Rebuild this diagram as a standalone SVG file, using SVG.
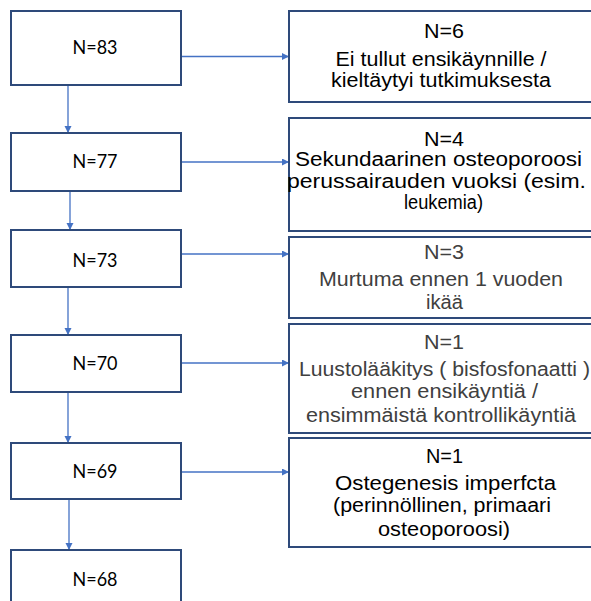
<svg xmlns="http://www.w3.org/2000/svg" width="591" height="601" viewBox="0 0 591 601">
<style>
.box{fill:#fff;stroke:#2E4A7A;stroke-width:2}
.lt{font-family:Lato,"Open Sans",sans-serif;font-size:18.5px;fill:#000;text-anchor:middle}
.rt{font-family:"Liberation Sans",Arial,sans-serif;font-size:20px;fill:#000;text-anchor:middle}
.g{fill:#404040}
.c{stroke:#4472C4;stroke-width:1.3;fill:none;marker-end:url(#ah)}
</style>
<defs>
<marker id="ah" markerUnits="userSpaceOnUse" markerWidth="8" markerHeight="8" refX="7" refY="3.5" orient="auto">
<path d="M0,0 L7,3.5 L0,7 z" fill="#4472C4"/>
</marker>
</defs>
<rect width="591" height="601" fill="#fff"/>
<g id="connectors">
<line class="c" x1="181" y1="56.5" x2="289" y2="56.5"/>
<line class="c" x1="181" y1="162" x2="289" y2="162"/>
<line class="c" x1="181" y1="254" x2="289" y2="254"/>
<line class="c" x1="181" y1="363" x2="289" y2="363"/>
<line class="c" x1="181" y1="472" x2="289" y2="472"/>
<line class="c" x1="68" y1="85" x2="68" y2="133"/>
<line class="c" x1="70" y1="191" x2="70" y2="230"/>
<line class="c" x1="68" y1="287" x2="68" y2="335"/>
<line class="c" x1="68" y1="392" x2="68" y2="443"/>
<line class="c" x1="69" y1="499" x2="69" y2="550"/>
</g>
<g id="n83"><rect class="box" x="11" y="11" width="170" height="74"/><text class="lt" x="95" y="54" textLength="45" lengthAdjust="spacingAndGlyphs">N=83</text></g>
<g id="n77"><rect class="box" x="11" y="133" width="170" height="58"/><text class="lt" x="95" y="168" textLength="45" lengthAdjust="spacingAndGlyphs">N=77</text></g>
<g id="n73"><rect class="box" x="11" y="230" width="170" height="57"/><text class="lt" x="95" y="267" textLength="45" lengthAdjust="spacingAndGlyphs">N=73</text></g>
<g id="n70"><rect class="box" x="11" y="335" width="170" height="57"/><text class="lt" x="95" y="370" textLength="45" lengthAdjust="spacingAndGlyphs">N=70</text></g>
<g id="n69"><rect class="box" x="11" y="443" width="170" height="56"/><text class="lt" x="95" y="478" textLength="45" lengthAdjust="spacingAndGlyphs">N=69</text></g>
<g id="n68"><rect class="box" x="11" y="550" width="170" height="60"/><text class="lt" x="95" y="586" textLength="45" lengthAdjust="spacingAndGlyphs">N=68</text></g>
<g id="ex1"><rect class="box" x="289" y="11" width="310" height="91"/>
<text class="rt" x="444" y="38" textLength="40" lengthAdjust="spacingAndGlyphs">N=6</text>
<text class="rt" x="441" y="66" textLength="211" lengthAdjust="spacingAndGlyphs">Ei tullut ensikäynnille /</text>
<text class="rt" x="441" y="87" textLength="220" lengthAdjust="spacingAndGlyphs">kieltäytyi tutkimuksesta</text></g>
<g id="ex2"><rect class="box" x="289" y="118" width="310" height="113"/>
<text class="rt" x="444" y="146" textLength="40" lengthAdjust="spacingAndGlyphs">N=4</text>
<text class="rt" x="438.5" y="166" textLength="287" lengthAdjust="spacingAndGlyphs">Sekundaarinen osteoporoosi</text>
<text class="rt" x="436.5" y="188" textLength="299" lengthAdjust="spacingAndGlyphs">perussairauden vuoksi (esim.</text>
<text class="rt" x="443.5" y="209" textLength="79" lengthAdjust="spacingAndGlyphs">leukemia)</text></g>
<g id="ex3"><rect class="box" x="289" y="237" width="310" height="81"/>
<text class="rt g" x="444" y="259" textLength="40" lengthAdjust="spacingAndGlyphs">N=3</text>
<text class="rt g" x="441" y="286" textLength="244" lengthAdjust="spacingAndGlyphs">Murtuma ennen 1 vuoden</text>
<text class="rt g" x="444.5" y="309" textLength="37" lengthAdjust="spacingAndGlyphs">ikää</text></g>
<g id="ex4"><rect class="box" x="289" y="324" width="310" height="109"/>
<text class="rt g" x="444" y="349" textLength="40" lengthAdjust="spacingAndGlyphs">N=1</text>
<text class="rt g" x="444.5" y="376" textLength="291" lengthAdjust="spacingAndGlyphs">Luustolääkitys ( bisfosfonaatti )</text>
<text class="rt g" x="444.5" y="398" textLength="187" lengthAdjust="spacingAndGlyphs">ennen ensikäyntiä /</text>
<text class="rt g" x="441" y="422" textLength="270" lengthAdjust="spacingAndGlyphs">ensimmäistä kontrollikäyntiä</text></g>
<g id="ex5"><rect class="box" x="289" y="438" width="310" height="109"/>
<text class="rt" x="444.5" y="463" textLength="37" lengthAdjust="spacingAndGlyphs">N=1</text>
<text class="rt" x="445.5" y="490" textLength="221" lengthAdjust="spacingAndGlyphs">Ostegenesis imperfcta</text>
<text class="rt" x="442" y="512" textLength="218" lengthAdjust="spacingAndGlyphs">(perinnöllinen, primaari</text>
<text class="rt" x="444" y="536" textLength="132" lengthAdjust="spacingAndGlyphs">osteoporoosi)</text></g>
</svg>
